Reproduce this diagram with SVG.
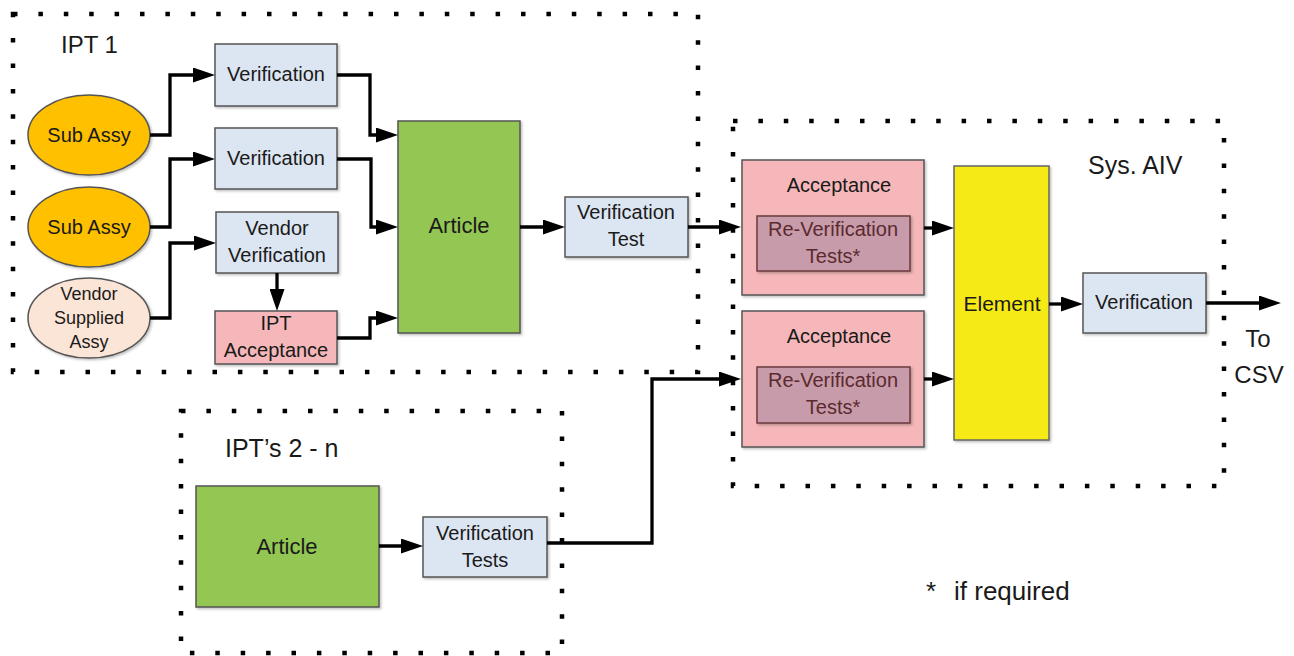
<svg xmlns="http://www.w3.org/2000/svg" width="1294" height="656" viewBox="0 0 1294 656">
<style>
  text { font-family: "Liberation Sans", Arial, sans-serif; fill: #1a1a1a; text-anchor: middle; }
  .lbl { text-anchor: start; }
  .dotbox { fill: none; stroke: #000; stroke-width: 4.5; stroke-dasharray: 4.5 20.9; }
  .blue { fill: #DCE6F2; stroke: #555; stroke-width: 1.5; filter: url(#sh); }
  .pink { fill: #F5B7B9; stroke: #555; stroke-width: 1.5; filter: url(#sh); }
  .mauve { fill: #C89BAB; stroke: #6A3A3E; stroke-width: 1.5; filter: url(#sh); }
  .green { fill: #93C652; stroke: #555; stroke-width: 1.5; filter: url(#sh); }
  .yellow { fill: #F5EA14; stroke: #666; stroke-width: 1.5; filter: url(#sh); }
  .orange { fill: #FFC000; stroke: #555; stroke-width: 1.5; filter: url(#sh); }
  .peach { fill: #FBE5D6; stroke: #555; stroke-width: 1.5; filter: url(#sh); }
  .conn path { fill: none; stroke: #000; stroke-width: 3.3; marker-end: url(#arr); }
  .mt { fill: #5A2A2E; }
</style>
<defs>
  <filter id="sh" x="-10%" y="-10%" width="130%" height="130%">
    <feDropShadow dx="1.5" dy="1.5" stdDeviation="1.2" flood-color="#000" flood-opacity="0.25"/>
  </filter>
  <marker id="arr" markerUnits="userSpaceOnUse" markerWidth="22" markerHeight="15" refX="16" refY="7.5" orient="auto">
    <path d="M0,0 L22,7.5 L0,15 z" fill="#000"/>
  </marker>
</defs>

<g id="containers">
  <rect id="ipt1-box" class="dotbox" x="13" y="14" width="685" height="358"/>
  <rect id="sysaiv-box" class="dotbox" x="733" y="121" width="491" height="365"/>
  <rect id="ipt2-box" class="dotbox" x="181" y="411" width="381" height="242"/>
  <text class="lbl" x="61" y="53" font-size="24">IPT 1</text>
  <text class="lbl" x="1088" y="174" font-size="25">Sys. AIV</text>
  <text class="lbl" x="225" y="457" font-size="25">IPT’s 2 - n</text>
</g>

<g id="sub-assy-1">
  <ellipse class="orange" cx="89" cy="135" rx="61" ry="40"/>
  <text x="89" y="142" font-size="20">Sub Assy</text>
</g>
<g id="sub-assy-2">
  <ellipse class="orange" cx="89" cy="227" rx="61" ry="40"/>
  <text x="89" y="234" font-size="20">Sub Assy</text>
</g>
<g id="vendor-assy">
  <ellipse class="peach" cx="89" cy="318" rx="61" ry="40"/>
  <text x="89" y="300" font-size="18">Vendor</text>
  <text x="89" y="324" font-size="18">Supplied</text>
  <text x="89" y="348" font-size="18">Assy</text>
</g>
<g id="verification-1">
  <rect class="blue" x="215" y="44" width="122" height="62"/>
  <text x="276" y="81" font-size="20">Verification</text>
</g>
<g id="verification-2">
  <rect class="blue" x="215" y="128" width="122" height="61"/>
  <text x="276" y="165" font-size="20">Verification</text>
</g>
<g id="vendor-verification">
  <rect class="blue" x="216" y="212" width="122" height="61"/>
  <text x="277" y="235" font-size="20">Vendor</text>
  <text x="277" y="262" font-size="20">Verification</text>
</g>
<g id="ipt-acceptance">
  <rect class="pink" x="215" y="311" width="122" height="53"/>
  <text x="276" y="330" font-size="20">IPT</text>
  <text x="276" y="357" font-size="20">Acceptance</text>
</g>
<g id="article-1">
  <rect class="green" x="398" y="121" width="122" height="212"/>
  <text x="459" y="233" font-size="22">Article</text>
</g>
<g id="verification-test">
  <rect class="blue" x="565" y="197" width="123" height="60"/>
  <text x="626" y="219" font-size="20">Verification</text>
  <text x="626" y="246" font-size="20">Test</text>
</g>
<g id="acceptance-1">
  <rect class="pink" x="742" y="160" width="182" height="135"/>
  <text x="839" y="192" font-size="20">Acceptance</text>
  <rect class="mauve" x="757" y="216" width="153" height="55"/>
  <text class="mt" x="833" y="236" font-size="20">Re-Verification</text>
  <text class="mt" x="833" y="263" font-size="20">Tests*</text>
</g>
<g id="acceptance-2">
  <rect class="pink" x="742" y="311" width="182" height="136"/>
  <text x="839" y="343" font-size="20">Acceptance</text>
  <rect class="mauve" x="757" y="367" width="153" height="56"/>
  <text class="mt" x="833" y="387" font-size="20">Re-Verification</text>
  <text class="mt" x="833" y="414" font-size="20">Tests*</text>
</g>
<g id="element">
  <rect class="yellow" x="954" y="166" width="95" height="274"/>
  <text x="1002" y="311" font-size="21">Element</text>
</g>
<g id="sys-verification">
  <rect class="blue" x="1083" y="273" width="123" height="60"/>
  <text x="1144" y="309" font-size="20">Verification</text>
</g>
<g id="to-csv">
  <text x="1258" y="347" font-size="24">To</text>
  <text x="1259" y="383" font-size="24">CSV</text>
</g>
<g id="article-2">
  <rect class="green" x="196" y="486" width="183" height="121"/>
  <text x="287" y="554" font-size="22">Article</text>
</g>
<g id="verification-tests">
  <rect class="blue" x="423" y="517" width="124" height="60"/>
  <text x="485" y="540" font-size="20">Verification</text>
  <text x="485" y="567" font-size="20">Tests</text>
</g>
<g id="footnote">
  <text class="lbl" x="926" y="600" font-size="26">*</text>
  <text class="lbl" x="954" y="600" font-size="26">if required</text>
</g>

<g id="connectors" class="conn">
  <path d="M150,135 H170 V75 H209"/>
  <path d="M150,227 H170 V159 H209"/>
  <path d="M150,318 H170 V243 H210"/>
  <path d="M277,273 V305"/>
  <path d="M337,75 H370 V135 H392"/>
  <path d="M337,159 H371 V227 H392"/>
  <path d="M337,338 H370 V318 H392"/>
  <path d="M520,227 H559"/>
  <path d="M688,227 H735"/>
  <path d="M924,228 H948"/>
  <path d="M924,379 H948"/>
  <path d="M1049,304 H1077"/>
  <path d="M1206,303 H1275"/>
  <path d="M379,546 H417"/>
  <path d="M547,543 H652 V379 H735"/>
</g>
</svg>
